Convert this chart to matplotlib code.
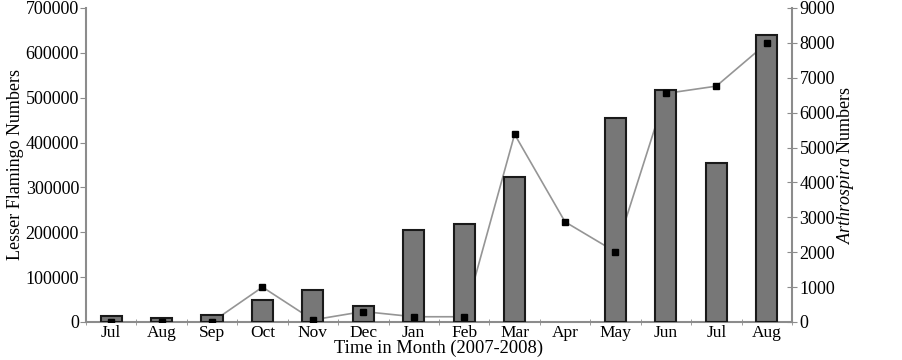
import matplotlib
matplotlib.use("Agg")
import matplotlib.pyplot as plt
import numpy as np

plt.rcParams['font.family'] = ['Liberation Serif', 'DejaVu Serif']
plt.rcParams['mathtext.fontset'] = 'custom'
plt.rcParams['mathtext.it'] = 'Liberation Serif:italic'
plt.rcParams['mathtext.rm'] = 'Liberation Serif'

months = ['Jul', 'Aug', 'Sep', 'Oct', 'Nov', 'Dec', 'Jan', 'Feb',
          'Mar', 'Apr', 'May', 'Jun', 'Jul', 'Aug']
# no flamingo count shown for April
flamingo = [14000, 9000, 15000, 48000, 72000, 36000, 204000, 218000,
            323000, np.nan, 455000, 517000, 354000, 640000]
arthrospira = [0, 0, 0, 1000, 60, 300, 150, 150,
               5380, 2870, 2010, 6550, 6760, 7990]

x = np.arange(len(months))
axis_grey = '#8c8c8c'

fig = plt.figure(figsize=(9.02, 3.6), dpi=100)
ax_line = fig.add_axes([0.0953, 0.1056, 0.7827, 0.8722])
ax_bar = ax_line.twinx()
ax_mk = ax_line.twinx()

# line sits behind the bars, markers on top
ax_line.plot(x, arthrospira, color='#959595', lw=1.2)
ax_bar.bar(x, flamingo, width=0.42, color='#777777', edgecolor='#1a1a1a', lw=1.5)
ax_mk.plot(x, arthrospira, ls='none', marker='s', ms=5, color='black')

for a in (ax_line, ax_mk):
  a.set_ylim(0, 9000)
  a.set_xlim(-0.5, len(months) - 0.5)
ax_bar.set_ylim(0, 700000)
ax_mk.axis('off')
ax_bar.patch.set_visible(False)

# Arthrospira scale on the right, flamingo scale on the left
ax_line.yaxis.tick_right()
ax_line.yaxis.set_label_position('right')
ax_bar.yaxis.tick_left()
ax_bar.yaxis.set_label_position('left')

ax_line.set_yticks(np.arange(0, 9001, 1000))
ax_bar.set_yticks(np.arange(0, 700001, 100000))
ax_line.tick_params(axis='y', direction='inout', length=7, color=axis_grey, labelsize=13, pad=2)
ax_bar.tick_params(axis='y', direction='out', length=4, color=axis_grey, labelsize=13, pad=1)

ax_line.set_xticks(x)
ax_line.set_xticklabels(months)
ax_line.set_xticks(np.arange(-0.5, len(months)), minor=True)
ax_line.tick_params(axis='x', which='major', length=0, labelsize=12.5, pad=2)
ax_line.tick_params(axis='x', which='minor', direction='inout', length=5, color=axis_grey)
ax_bar.tick_params(axis='x', which='both', bottom=False, labelbottom=False)

for a in (ax_line, ax_bar, ax_mk):
  for s in a.spines.values():
    s.set_visible(False)
ax_bar.spines['left'].set_visible(True)
ax_bar.spines['left'].set_color(axis_grey)
ax_bar.spines['left'].set_linewidth(1.5)
ax_line.spines['right'].set_visible(True)
ax_line.spines['right'].set_color(axis_grey)
ax_line.spines['right'].set_linewidth(1.5)
ax_line.spines['bottom'].set_visible(True)
ax_line.spines['bottom'].set_color(axis_grey)
ax_line.spines['bottom'].set_linewidth(1.5)

ax_bar.set_ylabel('Lesser Flamingo Numbers', fontsize=13, labelpad=1)
ax_line.set_ylabel(r'$\it{Arthrospira}$ Numbers', fontsize=13, labelpad=0)
ax_line.set_xlabel('Time in Month (2007-2008)', fontsize=13.3, labelpad=-1)

fig.savefig('out.png', dpi=100)
